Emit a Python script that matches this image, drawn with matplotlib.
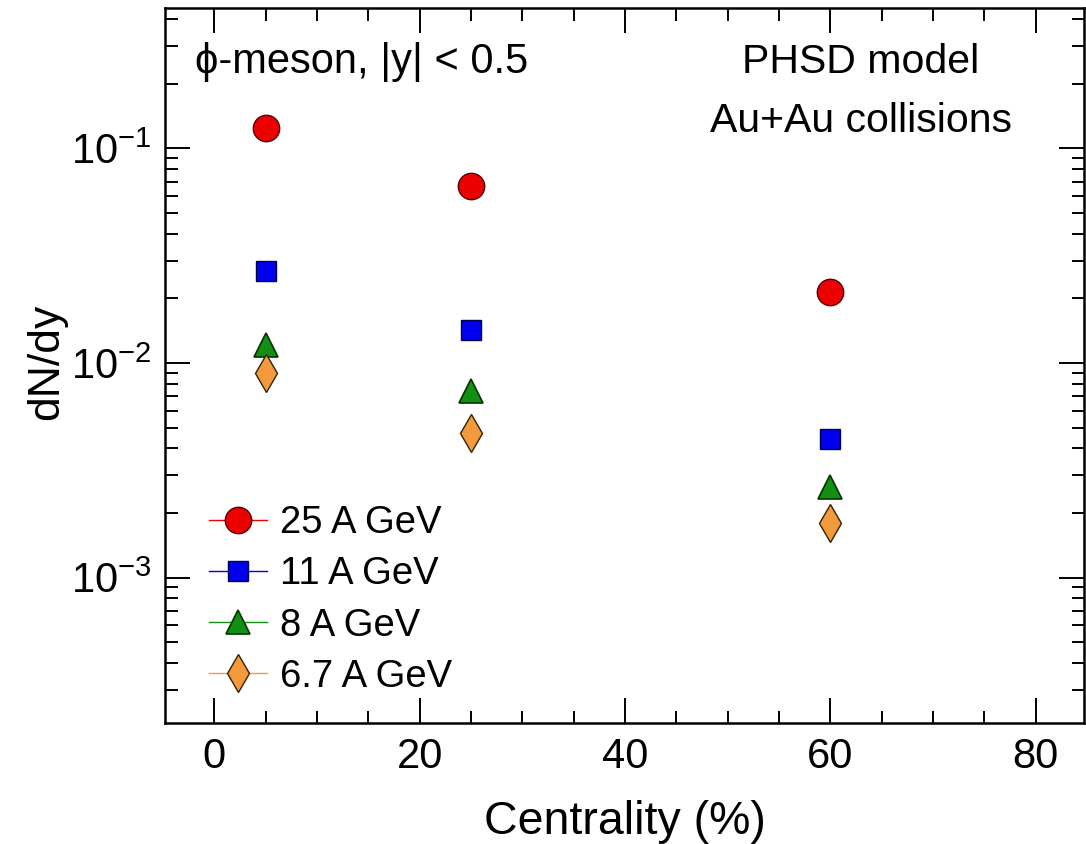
import matplotlib
matplotlib.use('Agg')
import matplotlib.pyplot as plt
from matplotlib.lines import Line2D
from matplotlib.ticker import LogLocator, MultipleLocator, NullFormatter

plt.rcParams['font.family'] = ['Liberation Sans', 'DejaVu Sans']
plt.rcParams['mathtext.fontset'] = 'custom'
plt.rcParams['mathtext.rm'] = 'Liberation Sans'
plt.rcParams['mathtext.it'] = 'Liberation Sans:italic'

# centrality bins (%)
centrality = [5, 25, 60]

# dN/dy of phi mesons for each beam energy
y_25 = [0.124, 0.0665, 0.0213]
y_11 = [0.0267, 0.0142, 0.00442]
y_8 = [0.0121, 0.0074, 0.00265]
y_67 = [0.0090, 0.00472, 0.00180]

labels = ['25 A GeV', '11 A GeV', '8 A GeV', '6.7 A GeV']

styles = [
    dict(marker='o', color='#ee0000', mec='#550000', mew=1, ms=19),
    dict(marker='s', color='#0000ee', mec='#000044', mew=1, ms=15),
    dict(marker='^', color='#129012', mec='#003300', mew=1.2, ms=17),
    dict(marker='d', color='#f39a3c', mec='#332200', mew=1, ms=19),
]

fig = plt.figure(figsize=(10.86, 8.44), dpi=100)
ax = fig.add_axes([0.152, 0.1434, 0.846, 0.847])

handles = []
for yv, st, lab in zip([y_25, y_11, y_8, y_67], styles, labels):
    ax.plot(centrality, yv, ls='none', **st)
    handles.append(Line2D([], [], ls='-', lw=1.0, label=lab, **st))

ax.set_yscale('log')
ax.set_xlim(-4.8, 84.7)
ax.set_ylim(2.1e-4, 0.45)

ax.xaxis.set_major_locator(MultipleLocator(20))
ax.xaxis.set_minor_locator(MultipleLocator(5))
ax.yaxis.set_major_locator(LogLocator(base=10))
ax.yaxis.set_minor_locator(LogLocator(base=10, subs=range(2, 10)))
ax.yaxis.set_minor_formatter(NullFormatter())

ax.tick_params(which='both', direction='in', top=True, right=True,
               labelsize=30, width=1.4)
ax.tick_params(which='major', length=18, pad=10)
ax.tick_params(which='minor', length=9)
for s in ax.spines.values():
    s.set_linewidth(1.8)

ax.set_xlabel('Centrality (%)', fontsize=33.5, labelpad=17)
ax.set_ylabel('dN/dy', fontsize=32)
ax.yaxis.set_label_coords(-0.107, 0.505)

ax.text(0.033, 0.909, '\u03d5-meson, |y| < 0.5', transform=ax.transAxes,
        fontsize=30, ha='left', va='baseline')
ax.text(0.757, 0.909, 'PHSD model', transform=ax.transAxes,
        fontsize=29.5, ha='center', va='baseline')
ax.text(0.757, 0.827, 'Au+Au collisions', transform=ax.transAxes,
        fontsize=29.5, ha='center', va='baseline')

ax.legend(handles=handles, loc='lower left', bbox_to_anchor=(0.019, 0.002),
          fontsize=27.5, frameon=False, handlelength=1.5,
          handletextpad=0.35, labelspacing=0.4, borderpad=0.2)

fig.savefig('out.png', dpi=100)
